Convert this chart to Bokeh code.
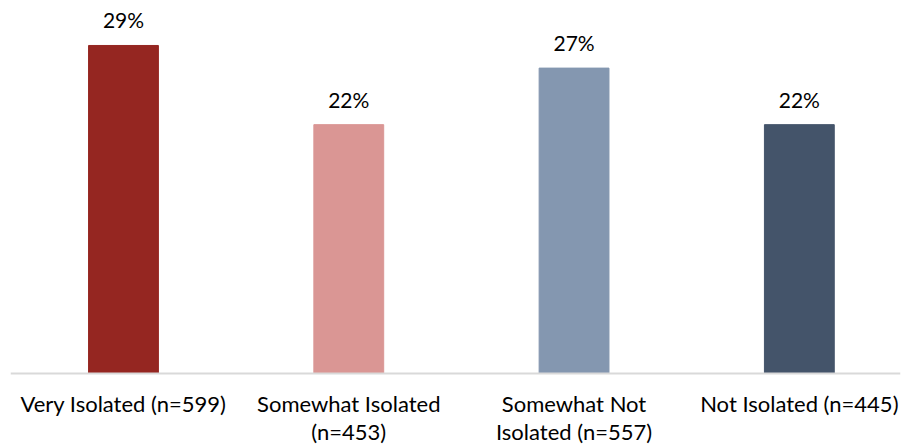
from bokeh.plotting import figure
from bokeh.models import ColumnDataSource, Range1d, LabelSet, Span
from bokeh.core.properties import value
from bokeh.embed import file_html
from bokeh.resources import INLINE

categories_line1 = ["Very Isolated (n=599)", "Somewhat Isolated", "Somewhat Not", "Not Isolated (n=445)"]
categories_line2 = ["", "(n=453)", "Isolated (n=557)", ""]
values = [29, 22, 27, 22]
colors = ["#952621", "#DA9694", "#8497B0", "#44546A"]

xs = list(range(len(values)))
src = ColumnDataSource(dict(x=xs, top=values, base=[0] * len(xs), color=colors,
                            label=[f"{v}%" for v in values],
                            cat1=categories_line1, cat2=categories_line2))

p = figure(width=902, height=444, output_backend="svg", toolbar_location=None,
           x_range=Range1d(-0.5015, 3.449), y_range=Range1d(-6.28, 32.27),
           min_border_left=10, min_border_right=2, min_border_top=8, min_border_bottom=0)
p.outline_line_color = None
p.xgrid.grid_line_color = None
p.ygrid.grid_line_color = None
p.xaxis.visible = False
p.yaxis.visible = False

p.add_layout(Span(location=0, dimension="width", line_color="#D9D9D9", line_width=2))

p.vbar(x="x", top="top", bottom="base", width=0.31, color="color", source=src)

labels = LabelSet(x="x", y="top", text="label", source=src, text_align="center",
                  text_baseline="alphabetic", y_offset=17, text_font=value("Lato"), text_font_size="21px",
                  text_color="#000000")
p.add_layout(labels)

for col, off in (("cat1", -17), ("cat2", -45)):
    p.add_layout(LabelSet(x="x", y="base", text=col, source=src, text_align="center",
                          text_baseline="top", y_offset=off, text_font=value("Lato"),
                          text_font_size="22px", text_color="#000000"))

open("out.html", "w").write(file_html(p, INLINE))
